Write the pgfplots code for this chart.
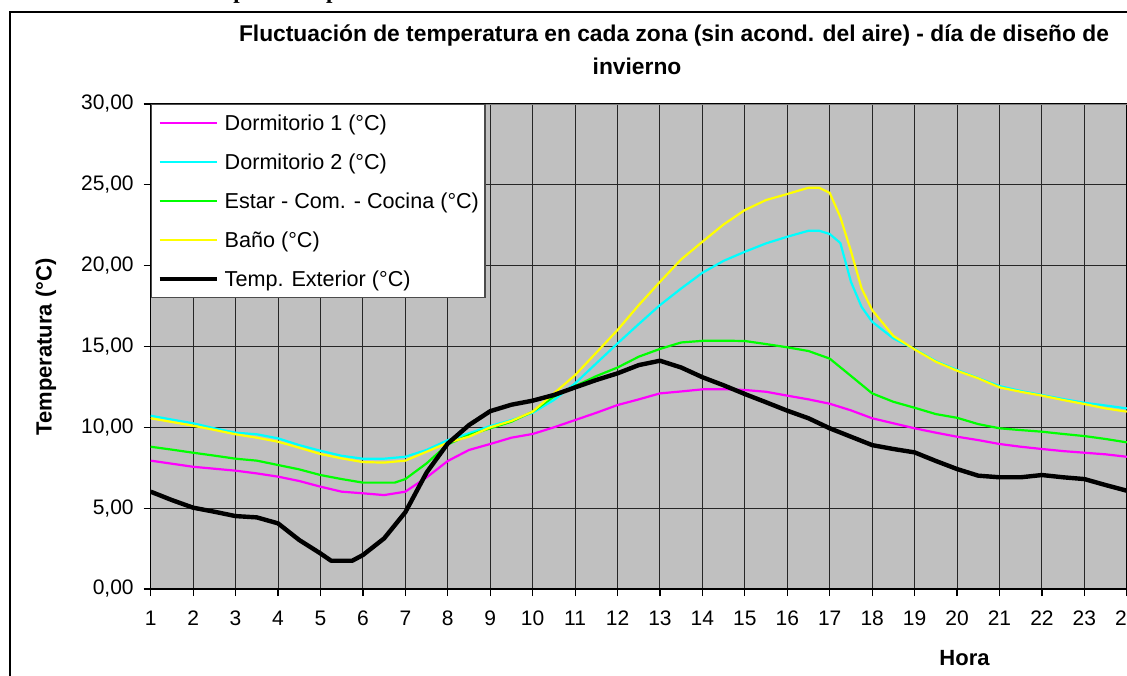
\documentclass[border=0pt]{standalone}
\usepackage{pgfplots}
\pgfplotsset{compat=1.18}
\usepackage{fontspec}
\setmainfont{Liberation Sans}
\newfontfamily\tnr{Liberation Serif}
\definecolor{bggray}{HTML}{C0C0C0}
\definecolor{cmag}{HTML}{FF00FF}
\definecolor{ccyan}{HTML}{00FFFF}
\definecolor{cgreen}{HTML}{00FF00}
\definecolor{cyellow}{HTML}{FFFF00}
\begin{document}
\begin{tikzpicture}
\useasboundingbox (0,0) rectangle (563.5pt,337.5pt);
\clip (0,0) rectangle (563.5pt,337.5pt);
\begin{scope}[x=0.5pt,y=-0.5pt,shift={(0pt,337.5pt)}]
% stray text of the page above (only descenders visible)
\node[anchor=base west, inner sep=0pt, font=\tnr\bfseries\fontsize{11.5}{13}\selectfont] at (196,-1) {temperatura por};
% chart border
\draw[line width=1pt] (9.5,700) -- (9.5,12.5) -- (1140,12.5);
% title
\node[anchor=base, inner sep=0pt, font=\bfseries\fontsize{11.4}{13}\selectfont] at (674,42) {Fluctuación de temperatura en cada zona (sin acond. del aire) - día de diseño de};
\node[anchor=base, inner sep=0pt, font=\bfseries\fontsize{11.4}{13}\selectfont] at (637,75) {invierno};
% axis labels
\node[rotate=90, inner sep=0pt, font=\bfseries\fontsize{11}{13}\selectfont] at (46,347) {Temperatura (°C)};
\node[anchor=base, inner sep=0pt, font=\bfseries\fontsize{11}{13}\selectfont] at (964.5,665) {Hora};
\end{scope}
\begin{axis}[
  at={(75.35pt,43pt)}, anchor=south west,
  width=488.05pt, height=242.5pt, scale only axis,
  xmin=1, xmax=24, ymin=0, ymax=30,
  xtick={1,...,24}, ytick={0,5,...,30},
  xtick pos=bottom, ytick pos=left,
  tick align=outside, major tick length=3.5pt,
  tick style={black, line width=0.6pt},
  axis line style={black, line width=0.6pt},
  axis background/.style={fill=bggray},
  grid=major, major grid style={black!85, line width=0.5pt},
  tick label style={font=\fontsize{10.5}{12}\selectfont},
  yticklabel style={xshift=-1.5pt, /pgf/number format/.cd, fixed, fixed zerofill, precision=2, use comma, assume math mode=true},
  xticklabel style={yshift=-4pt, /pgf/number format/assume math mode=true},
  legend style={at={(0,1)}, anchor=north west, draw=black!70, line width=0.6pt, fill=white,
    inner xsep=3pt, inner ysep=4.75pt, row sep=10.5pt,
    font=\fontsize{10.8}{12}\selectfont,
    nodes={inner sep=0pt, text height=8pt, text depth=1pt},
    /tikz/every odd column/.append style={column sep=3pt}},
  legend cell align=left,
  legend image code/.code={\draw[#1] (0pt,0pt) -- (28.5pt,0pt);},
]
\addplot[cmag, line width=1.1pt] coordinates {
(1,7.94)(1.5,7.75)(2,7.56)(2.5,7.44)(3,7.32)(3.5,7.15)(4,6.95)(4.5,6.68)(5,6.33)(5.5,6.02)(6,5.92)(6.5,5.81)(7,6.02)(7.5,6.9)(8,7.92)(8.5,8.6)(9,8.97)(9.5,9.36)(10,9.59)(10.5,10.0)(11,10.45)(11.5,10.9)(12,11.38)(12.5,11.73)(13,12.1)(13.5,12.22)(14,12.35)(14.5,12.36)(15,12.31)(15.5,12.2)(16,11.96)(16.5,11.73)(17,11.46)(17.5,11.05)(18,10.56)(18.5,10.25)(19,9.94)(19.5,9.67)(20,9.42)(20.5,9.21)(21,8.97)(21.5,8.8)(22,8.66)(22.5,8.53)(23,8.43)(23.5,8.33)(24,8.18)};
\addlegendentry{Dormitorio 1 (°C)}
\addplot[ccyan, line width=1.1pt] coordinates {
(1,10.72)(1.5,10.48)(2,10.25)(2.5,9.94)(3,9.67)(3.5,9.57)(4,9.32)(4.5,8.9)(5,8.55)(5.5,8.24)(6,8.06)(6.5,8.06)(7,8.18)(7.5,8.6)(8,9.21)(8.5,9.63)(9,10.08)(9.5,10.45)(10,10.9)(10.5,11.69)(11,12.72)(11.5,13.96)(12,15.19)(12.5,16.39)(13,17.56)(13.5,18.59)(14,19.56)(14.5,20.3)(15,20.86)(15.5,21.38)(16,21.79)(16.5,22.16)(16.75,22.16)(17,21.96)(17.25,21.4)(17.5,19.0)(17.75,17.45)(18,16.53)(18.5,15.5)(19,14.85)(19.5,14.1)(20,13.55)(20.5,13.05)(21,12.55)(21.5,12.25)(22,12.0)(22.5,11.75)(23,11.52)(23.5,11.35)(24,11.17)};
\addlegendentry{Dormitorio 2 (°C)}
\addplot[cgreen, line width=1.1pt] coordinates {
(1,8.8)(1.5,8.62)(2,8.43)(2.5,8.25)(3,8.06)(3.5,7.94)(4,7.67)(4.5,7.4)(5,7.05)(5.5,6.8)(6,6.58)(6.5,6.58)(6.75,6.58)(7,6.8)(7.5,7.77)(8,8.95)(8.5,9.52)(9,9.94)(9.5,10.35)(10,10.97)(10.5,11.9)(11,12.55)(11.5,13.17)(12,13.7)(12.5,14.37)(13,14.85)(13.5,15.25)(14,15.35)(14.5,15.36)(15,15.34)(15.5,15.15)(16,14.95)(16.5,14.72)(17,14.25)(17.5,13.18)(18,12.1)(18.5,11.58)(19,11.21)(19.5,10.82)(20,10.59)(20.5,10.2)(21,9.94)(21.5,9.83)(22,9.73)(22.5,9.59)(23,9.46)(23.5,9.28)(24,9.07)};
\addlegendentry{Estar - Com. - Cocina (°C)}
\addplot[cyellow, line width=1.1pt] coordinates {
(1,10.56)(1.5,10.33)(2,10.1)(2.5,9.84)(3,9.57)(3.5,9.36)(4,9.11)(4.5,8.74)(5,8.35)(5.5,8.08)(6,7.85)(6.5,7.82)(7,7.94)(7.5,8.49)(8,9.05)(8.5,9.42)(9,10.0)(9.5,10.4)(10,10.97)(10.5,12.1)(11,13.23)(11.5,14.62)(12,16.02)(12.5,17.56)(13,19.0)(13.5,20.39)(14,21.48)(14.5,22.55)(15,23.44)(15.5,24.06)(16,24.43)(16.25,24.63)(16.5,24.82)(16.75,24.82)(17,24.5)(17.25,23.0)(17.5,20.9)(17.75,18.6)(18,17.25)(18.5,15.65)(19,14.82)(19.5,14.06)(20,13.5)(20.5,13.03)(21,12.47)(21.5,12.2)(22,11.96)(22.5,11.69)(23,11.44)(23.5,11.17)(24,10.97)};
\addlegendentry{Baño (°C)}
\addplot[black, line width=2.2pt, line join=round] coordinates {
(1,6.02)(1.5,5.5)(2,5.03)(2.5,4.78)(3,4.51)(3.5,4.43)(4,4.06)(4.5,3.03)(5,2.2)(5.25,1.75)(5.75,1.75)(6,2.1)(6.5,3.13)(7,4.75)(7.5,7.2)(8,9.0)(8.5,10.14)(9,11.0)(9.5,11.4)(10,11.65)(10.5,12.0)(11,12.47)(11.5,12.93)(12,13.34)(12.5,13.85)(13,14.12)(13.5,13.7)(14,13.1)(14.5,12.6)(15,12.06)(15.5,11.55)(16,11.03)(16.5,10.56)(17,9.94)(17.5,9.42)(18,8.9)(18.5,8.66)(19,8.45)(19.5,7.92)(20,7.42)(20.5,7.01)(21,6.91)(21.5,6.91)(22,7.05)(22.5,6.91)(23,6.8)(23.5,6.43)(24,6.08)};
\addlegendentry{Temp. Exterior (°C)}
\draw[black!50, line width=0.6pt] (rel axis cs:0,1) -- (rel axis cs:1,1);
\end{axis}
\end{tikzpicture}
\end{document}
